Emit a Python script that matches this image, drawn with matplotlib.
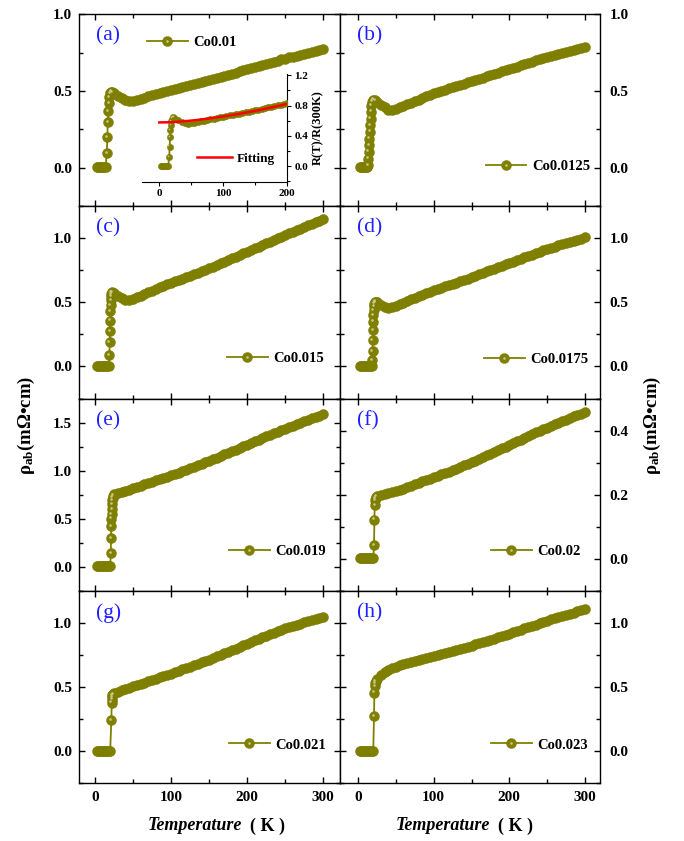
import matplotlib
matplotlib.use("Agg")
import matplotlib.pyplot as plt
import matplotlib.transforms as mtransforms
from matplotlib.lines import Line2D
from matplotlib.legend_handler import HandlerTuple
from matplotlib.ticker import MultipleLocator, FormatStrFormatter
import numpy as np

plt.rcParams["font.family"] = ["Liberation Serif", "DejaVu Serif"]
plt.rcParams["font.weight"] = "bold"
plt.rcParams["mathtext.fontset"] = "custom"
plt.rcParams["mathtext.rm"] = "Liberation Serif:bold"
plt.rcParams["mathtext.it"] = "Liberation Serif:italic:bold"
plt.rcParams["mathtext.bf"] = "Liberation Serif:bold"

OLIVE = "#808000"
EDGE = "#7a7a00"
LIGHT = "#cfcf98"
BLUE = "#1f1fff"

# ---- data ----
# shared temperature grid above the transition (K)
temp_grid = [25, 30, 35, 40, 45, 50, 55, 60, 65, 70,
             75, 80, 85, 90, 95, 100, 105, 110, 115, 120,
             125, 130, 135, 140, 145, 150, 155, 160, 165, 170,
             175, 180, 185, 190, 195, 200, 205, 210, 215, 220,
             225, 230, 235, 240, 245, 250, 255, 260, 265, 270,
             275, 280, 285, 290, 295, 300]

samples = ["Co0.01", "Co0.0125", "Co0.015", "Co0.0175",
           "Co0.019", "Co0.02", "Co0.021", "Co0.023"]
tags = ["(a)", "(b)", "(c)", "(d)", "(e)", "(f)", "(g)", "(h)"]

# low temperature part: zero-resistance plateau + transition
low_t_a = [2, 4, 6, 8, 10, 12, 14, 15.5, 16.3, 16.8, 17.5, 18.3, 19, 20, 21.3, 23]
low_r_a = [0.005, 0.005, 0.005, 0.005, 0.005, 0.005, 0.006, 0.095, 0.20, 0.30,
           0.37, 0.42, 0.46, 0.485, 0.497, 0.495]
low_t_b = [2, 4, 6, 8, 10, 12, 13, 13.5, 14, 14.5, 15, 15.5, 16, 16.5, 17, 17.5,
           18.5, 20, 22]
low_r_b = [0.005, 0.005, 0.005, 0.005, 0.005, 0.005, 0.02, 0.06, 0.106, 0.15,
           0.19, 0.236, 0.28, 0.32, 0.366, 0.405, 0.432, 0.445, 0.44]
low_t_c = [2, 4, 6, 8, 10, 12, 14, 16, 18, 19, 19.3, 19.6, 20, 20.3, 20.6, 21,
           21.3, 21.6, 22, 23]
low_r_c = [0.005, 0.005, 0.005, 0.005, 0.005, 0.005, 0.005, 0.005, 0.005, 0.09,
           0.187, 0.273, 0.358, 0.43, 0.48, 0.52, 0.545, 0.566, 0.577, 0.578]
low_t_d = [2, 4, 6, 8, 10, 12, 14, 16, 18, 18.5, 19, 19.3, 19.6, 20, 20.3, 20.6,
           21, 21.5, 22, 23]
low_r_d = [0.005, 0.005, 0.005, 0.005, 0.005, 0.005, 0.005, 0.005, 0.005, 0.05,
           0.117, 0.208, 0.286, 0.35, 0.40, 0.44, 0.47, 0.49, 0.503, 0.505]
low_t_e = [2, 4, 6, 8, 10, 12, 14, 16, 18, 20, 20.8, 21.1, 21.4, 21.7, 22.0,
           22.3, 22.6, 22.9, 23.2, 23.6]
low_r_e = [0.005, 0.005, 0.005, 0.005, 0.005, 0.005, 0.005, 0.005, 0.005, 0.005,
           0.145, 0.30, 0.42, 0.50, 0.55, 0.60, 0.65, 0.69, 0.72, 0.74]
low_t_f = [2, 4, 6, 8, 10, 12, 14, 16, 18, 20, 21, 21.5, 22, 22.5, 23, 24]
low_r_f = [0.002, 0.002, 0.002, 0.002, 0.002, 0.002, 0.002, 0.002, 0.002, 0.002,
           0.042, 0.122, 0.168, 0.182, 0.19, 0.194]
low_t_g = [2, 4, 6, 8, 10, 12, 14, 16, 18, 20, 21.5, 22, 22.3, 22.6, 23, 24]
low_r_g = [0.003, 0.003, 0.003, 0.003, 0.003, 0.003, 0.003, 0.003, 0.003, 0.003,
           0.24, 0.377, 0.40, 0.42, 0.435, 0.445]
low_t_h = [2, 4, 6, 8, 10, 12, 14, 16, 18, 20, 21, 21.5, 22, 22.5, 23]
low_r_h = [0.003, 0.003, 0.003, 0.003, 0.003, 0.003, 0.003, 0.003, 0.003, 0.003,
           0.27, 0.455, 0.506, 0.53, 0.545]

# resistivity on temp_grid (mOhm cm)
rho_a = [0.485, 0.470, 0.455, 0.442, 0.434, 0.438, 0.444, 0.451, 0.458, 0.465,
         0.472, 0.479, 0.485, 0.492, 0.498, 0.505, 0.511, 0.518, 0.524, 0.531,
         0.537, 0.544, 0.550, 0.557, 0.564, 0.571, 0.578, 0.585, 0.592, 0.599,
         0.606, 0.614, 0.621, 0.628, 0.636, 0.643, 0.650, 0.657, 0.664, 0.671,
         0.678, 0.685, 0.692, 0.699, 0.706, 0.712, 0.719, 0.725, 0.731, 0.737,
         0.743, 0.749, 0.755, 0.761, 0.767, 0.773]
rho_b = [0.430, 0.412, 0.395, 0.380, 0.377, 0.385, 0.395, 0.405, 0.415, 0.425,
         0.435, 0.445, 0.455, 0.465, 0.475, 0.485, 0.493, 0.501, 0.509, 0.517,
         0.525, 0.532, 0.540, 0.548, 0.556, 0.564, 0.572, 0.580, 0.588, 0.596,
         0.604, 0.612, 0.620, 0.628, 0.636, 0.644, 0.652, 0.660, 0.668, 0.676,
         0.684, 0.692, 0.700, 0.708, 0.715, 0.722, 0.729, 0.736, 0.743, 0.750,
         0.757, 0.763, 0.769, 0.775, 0.781, 0.787]
rho_c = [0.570, 0.550, 0.533, 0.522, 0.520, 0.527, 0.540, 0.553, 0.566, 0.579,
         0.592, 0.605, 0.617, 0.629, 0.641, 0.653, 0.664, 0.675, 0.686, 0.697,
         0.708, 0.719, 0.730, 0.741, 0.753, 0.766, 0.779, 0.792, 0.805, 0.818,
         0.831, 0.844, 0.857, 0.870, 0.883, 0.896, 0.909, 0.922, 0.935, 0.948,
         0.961, 0.974, 0.987, 1.000, 1.013, 1.026, 1.039, 1.052, 1.064, 1.076,
         1.088, 1.100, 1.112, 1.124, 1.136, 1.148]
rho_d = [0.500, 0.482, 0.465, 0.456, 0.464, 0.475, 0.487, 0.499, 0.511, 0.523,
         0.535, 0.547, 0.559, 0.571, 0.583, 0.595, 0.605, 0.615, 0.625, 0.635,
         0.645, 0.655, 0.665, 0.675, 0.686, 0.697, 0.708, 0.719, 0.730, 0.741,
         0.752, 0.763, 0.774, 0.785, 0.796, 0.807, 0.818, 0.829, 0.840, 0.851,
         0.862, 0.873, 0.884, 0.895, 0.905, 0.915, 0.925, 0.935, 0.944, 0.953,
         0.962, 0.971, 0.980, 0.989, 0.998, 1.007]
rho_e = [0.752, 0.765, 0.777, 0.790, 0.802, 0.815, 0.829, 0.843, 0.857, 0.871,
         0.885, 0.898, 0.911, 0.924, 0.937, 0.950, 0.965, 0.980, 0.995, 1.010,
         1.025, 1.040, 1.055, 1.070, 1.085, 1.100, 1.117, 1.134, 1.151, 1.168,
         1.185, 1.202, 1.219, 1.236, 1.253, 1.270, 1.287, 1.304, 1.321, 1.338,
         1.355, 1.371, 1.387, 1.403, 1.419, 1.435, 1.450, 1.465, 1.480, 1.496,
         1.512, 1.528, 1.543, 1.558, 1.573, 1.588]
rho_f = [0.196, 0.198, 0.201, 0.204, 0.207, 0.211, 0.215, 0.219, 0.224, 0.228,
         0.233, 0.237, 0.241, 0.245, 0.249, 0.254, 0.258, 0.263, 0.267, 0.272,
         0.276, 0.281, 0.286, 0.291, 0.296, 0.301, 0.306, 0.312, 0.317, 0.323,
         0.328, 0.334, 0.339, 0.345, 0.350, 0.356, 0.361, 0.367, 0.372, 0.378,
         0.383, 0.389, 0.394, 0.399, 0.404, 0.409, 0.414, 0.419, 0.424, 0.429,
         0.434, 0.439, 0.444, 0.448, 0.453, 0.457]
rho_g = [0.450, 0.462, 0.473, 0.484, 0.494, 0.504, 0.514, 0.524, 0.534, 0.544,
         0.554, 0.564, 0.574, 0.584, 0.594, 0.604, 0.614, 0.625, 0.636, 0.647,
         0.658, 0.669, 0.680, 0.691, 0.702, 0.713, 0.725, 0.737, 0.749, 0.761,
         0.773, 0.785, 0.797, 0.810, 0.823, 0.836, 0.849, 0.862, 0.874, 0.886,
         0.898, 0.910, 0.922, 0.934, 0.945, 0.956, 0.966, 0.976, 0.985, 0.994,
         1.003, 1.012, 1.020, 1.028, 1.035, 1.042]
rho_h = [0.565, 0.592, 0.613, 0.630, 0.645, 0.658, 0.669, 0.679, 0.688, 0.697,
         0.705, 0.713, 0.721, 0.728, 0.735, 0.742, 0.750, 0.758, 0.766, 0.774,
         0.782, 0.790, 0.798, 0.806, 0.814, 0.822, 0.831, 0.840, 0.849, 0.858,
         0.867, 0.876, 0.886, 0.896, 0.906, 0.916, 0.926, 0.936, 0.946, 0.956,
         0.966, 0.976, 0.986, 0.996, 1.006, 1.016, 1.026, 1.035, 1.044, 1.053,
         1.062, 1.071, 1.080, 1.089, 1.098, 1.107]

# inset: fit of the normal-state R(T)/R(300K) of Co0.01
fit_t = [0, 10, 20, 30, 40, 50, 60, 70, 80, 90, 100, 110, 120, 130, 140, 150,
         160, 170, 180, 190, 200, 205]
fit_r = [0.578, 0.579, 0.582, 0.587, 0.594, 0.602, 0.611, 0.621, 0.632, 0.644,
         0.657, 0.670, 0.684, 0.699, 0.715, 0.731, 0.748, 0.766, 0.784, 0.803,
         0.822, 0.832]

low_t = [low_t_a, low_t_b, low_t_c, low_t_d, low_t_e, low_t_f, low_t_g, low_t_h]
low_r = [low_r_a, low_r_b, low_r_c, low_r_d, low_r_e, low_r_f, low_r_g, low_r_h]
rho = [rho_a, rho_b, rho_c, rho_d, rho_e, rho_f, rho_g, rho_h]

# ---- per panel axis settings ----
ylims = [(-0.25, 1.002), (-0.25, 1.002), (-0.25, 1.25), (-0.25, 1.25),
         (-0.25, 1.75), (-0.1, 0.5), (-0.25, 1.25), (-0.25, 1.25)]
ymajor = [0.5, 0.5, 0.5, 0.5, 0.5, 0.2, 0.5, 0.5]
leg_pos = [(0.26, 0.854), (0.56, 0.208), (0.567, 0.208), (0.554, 0.203),
           (0.575, 0.203), (0.58, 0.203), (0.575, 0.198), (0.58, 0.198)]

W, H = 684, 841
fig = plt.figure(figsize=(W / 100, H / 100), dpi=100)

col_x = [79, 340]
col_w = [261, 260]
top, row_h = 14, 192.25
MS = 7.2


def add_curve(ax, t, r, ms, n_low):
    ax.plot(t, r, "-o", color=OLIVE, lw=1.3, ms=ms, mfc=OLIVE, mec=EDGE,
            mew=0.3, zorder=3)
    # sphere-like highlight on the sparse transition points
    mask = np.zeros(len(t), bool)
    mask[:n_low] = r[:n_low] > 0.01
    hl = mtransforms.offset_copy(ax.transData, fig=fig, x=-0.9, y=0.9, units="points")
    ax.plot(t[mask], r[mask], "o", ms=ms * 0.26, color=LIGHT, mec="none",
            alpha=0.9, transform=hl, zorder=4)


def legend_handle(ms):
    h1 = Line2D([], [], color=OLIVE, lw=1.3, marker="o", ms=ms, mfc=OLIVE,
                mec=EDGE, mew=0.3)
    h2 = Line2D([], [], ls="none", marker="o", ms=ms * 0.26, color=LIGHT,
                mec="none", alpha=0.9)
    return (h1, h2)


for i in range(8):
    row, col = divmod(i, 2)
    x0 = col_x[col] / W
    y0 = 1 - (top + row_h * (row + 1)) / H
    ax = fig.add_axes([x0, y0, col_w[col] / W, row_h / H])

    t = np.array(low_t[i] + temp_grid, float)
    r = np.array(low_r[i] + rho[i], float)
    add_curve(ax, t, r, MS, len(low_t[i]))

    if col == 0:
        ax.set_xlim(-21, 322)
    else:
        ax.set_xlim(-24, 320)
    ax.set_ylim(*ylims[i])
    ax.xaxis.set_major_locator(MultipleLocator(100))
    ax.xaxis.set_minor_locator(MultipleLocator(50))
    ax.yaxis.set_major_locator(MultipleLocator(ymajor[i]))
    ax.yaxis.set_minor_locator(MultipleLocator(ymajor[i] / 2))
    ax.tick_params(which="both", direction="in", top=True, bottom=True,
                   left=True, right=True, width=1.0, labelsize=11)
    ax.tick_params(which="major", length=4.5)
    ax.tick_params(which="minor", length=3)
    ax.tick_params(axis="y", pad=5)
    ax.tick_params(axis="x", pad=6, labelbottom=(row == 3))
    if col == 1:
        ax.tick_params(axis="y", labelleft=False, labelright=True, pad=7)
    for s in ax.spines.values():
        s.set_linewidth(1.0)
    ax.yaxis.set_major_formatter(FormatStrFormatter("%.1f"))

    ax.text(0.065, 0.885, tags[i], transform=ax.transAxes, color=BLUE,
            fontsize=15.5, fontweight="normal", ha="left", va="center")
    ax.legend([legend_handle(MS)], [samples[i]],
              handler_map={tuple: HandlerTuple(ndivide=1, pad=0)},
              loc="center left", bbox_to_anchor=leg_pos[i], frameon=False,
              borderpad=0, borderaxespad=0, handlelength=2.8, handletextpad=0.4,
              prop={"size": 10.5, "weight": "bold"})

# ---- inset in (a) ----
ins = fig.add_axes([142 / W, 1 - 182.2 / H, 145.3 / W, 108.5 / H])
ins.patch.set_alpha(0)
ta = np.array(low_t_a + temp_grid, float)
ra = np.array(low_r_a + rho_a, float)
ra_norm = ra / ra[-1]
add_curve(ins, ta, ra_norm, 4.6, len(low_t_a))
fit_line, = ins.plot(fit_t, fit_r, color="red", lw=1.8, zorder=5)
ins.set_xlim(-27, 200)
ins.set_ylim(-0.21, 1.22)
ins.spines["top"].set_visible(False)
ins.spines["left"].set_visible(False)
ins.xaxis.set_major_locator(MultipleLocator(100))
ins.xaxis.set_minor_locator(MultipleLocator(50))
ins.yaxis.set_major_locator(MultipleLocator(0.4))
ins.yaxis.set_minor_locator(MultipleLocator(0.2))
ins.yaxis.tick_right()
ins.tick_params(which="both", direction="out", width=0.8, labelsize=8, pad=2)
ins.tick_params(which="major", length=3)
ins.tick_params(which="minor", length=2)
ins.yaxis.set_major_formatter(FormatStrFormatter("%.1f"))
ins.set_ylabel("R(T)/R(300K)", fontsize=9, fontweight="bold", labelpad=3)
ins.yaxis.set_label_position("right")
ins.legend([fit_line], ["Fitting"], loc="center left", bbox_to_anchor=(0.38, 0.214),
           frameon=False, borderpad=0, borderaxespad=0, handlelength=2.6,
           handletextpad=0.4, prop={"size": 9.5, "weight": "bold"})

# ---- axis labels ----
ylab = "ρ$_{\\mathrm{ab}}$(mΩ•cm)"
fig.text(26 / W, 1 - 425 / H, ylab, rotation=90, fontsize=13.5, fontweight="bold",
         ha="center", va="center")
fig.text(652 / W, 1 - 425 / H, ylab, rotation=90, fontsize=13.5, fontweight="bold",
         ha="center", va="center")
for xr in (242, 490):
    fig.text(xr / W, 1 - 826 / H, "Temperature", fontsize=13, fontweight="bold",
             style="italic", ha="right", va="center")
    fig.text((xr + 8) / W, 1 - 826 / H, "( K )", fontsize=13, fontweight="bold",
             ha="left", va="center")

fig.savefig("out.png", dpi=100)
